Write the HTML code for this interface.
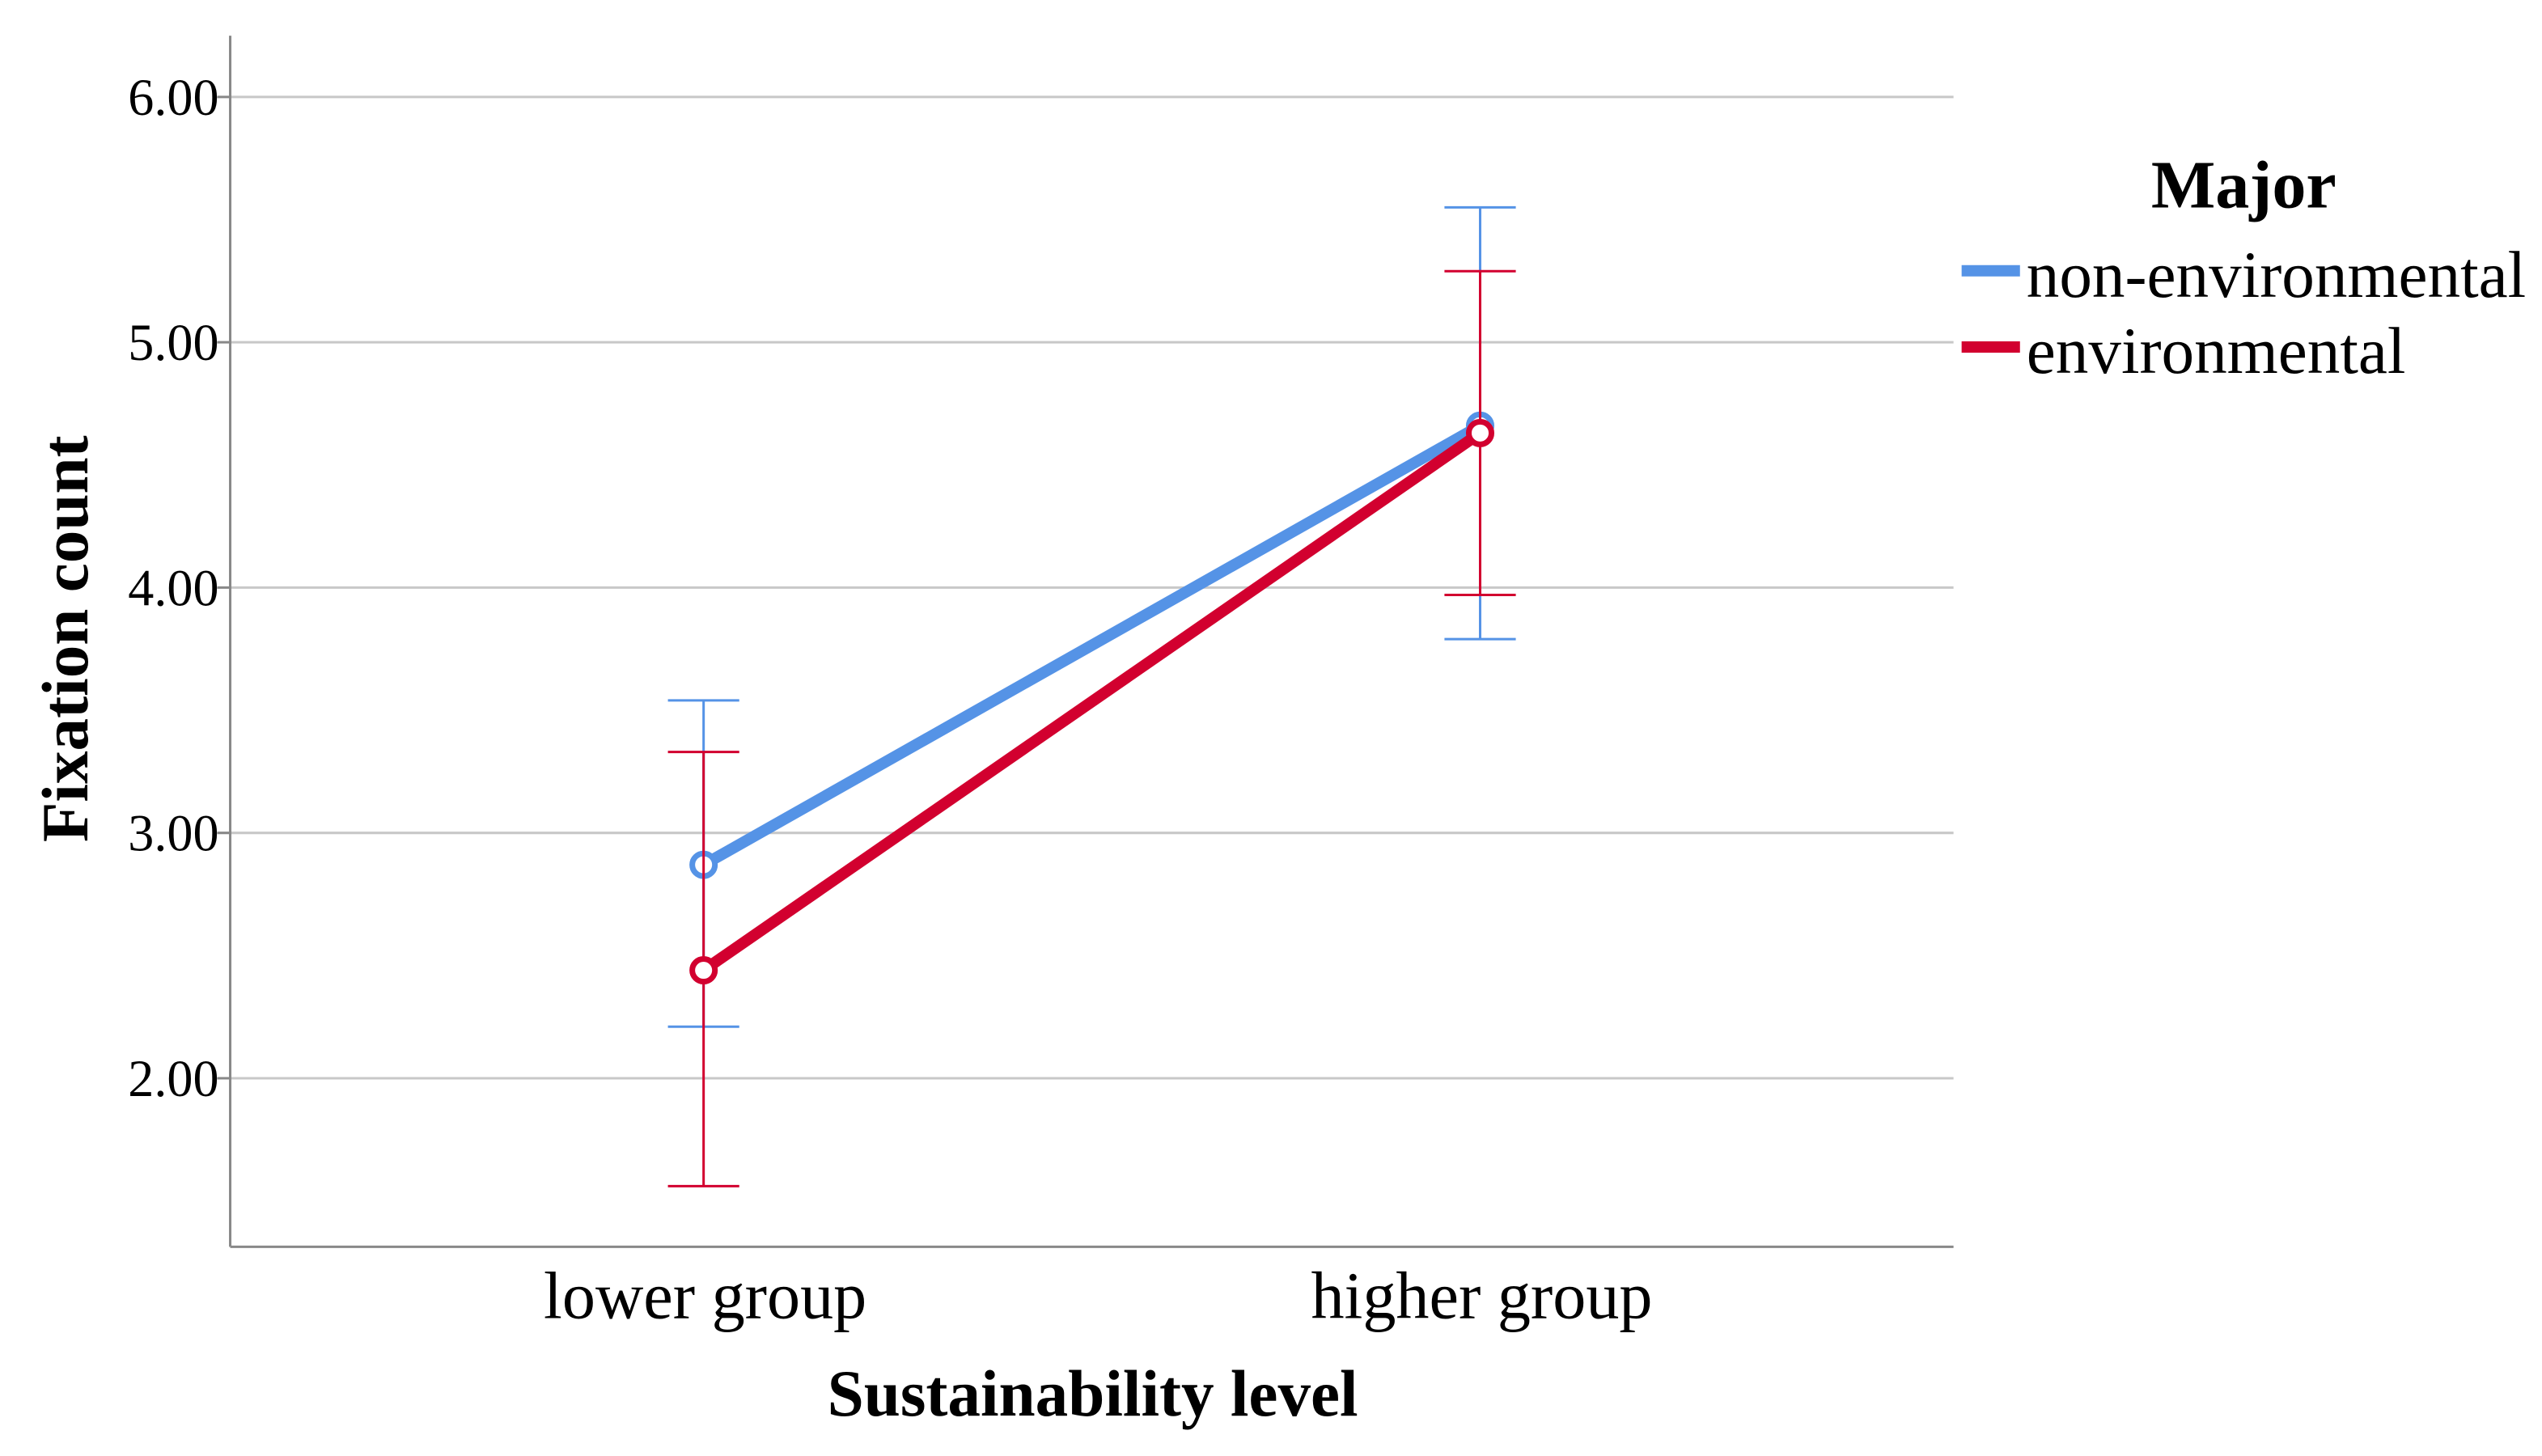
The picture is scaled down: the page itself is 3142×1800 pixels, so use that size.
<!DOCTYPE html>
<html><head><meta charset="utf-8"><style>
html,body{margin:0;padding:0;background:#fff;}
svg{display:block;font-family:"Liberation Serif",serif;}
</style></head><body>
<svg id="chart" width="3142" height="1800" viewBox="0 0 1568 898" preserveAspectRatio="none" xmlns="http://www.w3.org/2000/svg">
<g id="grid"></g>
<g id="yticks"></g>
<g id="xticks"></g>
<line x1="142" y1="22" x2="142" y2="769" stroke="#888" stroke-width="1.5"/>
<line x1="142" y1="769" x2="1205" y2="769" stroke="#888" stroke-width="1.5"/>
<g id="series"></g>
<text transform="translate(54,394) rotate(-90)" text-anchor="middle" font-size="40.5" font-weight="bold" fill="#000">Fixation count</text>
<text x="674" y="873" text-anchor="middle" font-size="40.5" font-weight="bold" fill="#000">Sustainability level</text>
<text x="1384" y="128" text-anchor="middle" font-size="42" font-weight="bold" fill="#000">Major</text>
<g>
<line x1="1210" y1="167" x2="1246" y2="167" stroke="#5593e6" stroke-width="7"/>
<text x="1250" y="183" font-size="40.5" fill="#000">non-environmental</text></g>
<g>
<line x1="1210" y1="214" x2="1246" y2="214" stroke="#d2002f" stroke-width="7"/>
<text x="1250" y="230" font-size="40.5" fill="#000">environmental</text></g>
</svg>
<script>
const categories = ["lower group", "higher group"];
const nonEnvMean = [2.87, 4.66];
const nonEnvLow = [2.21, 3.79];
const nonEnvHigh = [3.54, 5.55];
const envMean = [2.44, 4.63];
const envLow = [1.56, 3.97];
const envHigh = [3.33, 5.29];
const yTicks = [2, 3, 4, 5, 6];
const yTickLabels = ["2.00", "3.00", "4.00", "5.00", "6.00"];

const NS = "http://www.w3.org/2000/svg";
function y(v){ return 665 - (v - 2) * 151.3; }
function x(i){ return 434 + i * 479; }
function mk(tag, attrs, parent){ const e = document.createElementNS(NS, tag); for (const k in attrs) e.setAttribute(k, attrs[k]); parent.appendChild(e); return e; }

const grid = document.getElementById('grid'), yt = document.getElementById('yticks'), xt = document.getElementById('xticks'), ser = document.getElementById('series');
yTicks.forEach((v, i) => {
  const g = mk('line', {x1:142, x2:1205, y1:y(v), y2:y(v), stroke:'#c8c8c8', 'stroke-width':1.5}, grid);
  
  
  const t = mk('line', {x1:134, x2:142, y1:y(v), y2:y(v), stroke:'#888', 'stroke-width':1.5}, yt);
  
  
  const l = mk('text', {x:135, y:y(v)+11, 'text-anchor':'end', 'font-size':32, fill:'#000'}, yt);
  l.textContent = yTickLabels[i];
  
  
});
categories.forEach((c, i) => {
  const l = mk('text', {x:x(i)+1, y:813, 'text-anchor':'middle', 'font-size':41, fill:'#000'}, xt);
  l.textContent = c;
  
  
});
function drawSeries(mean, lo, hi, color, name){
  const g = mk('g', {}, ser);
  
  
  mean.forEach((m, i) => {
    const e = mk('g', {stroke:color, 'stroke-width':1.5, fill:'none'}, g);
    
    
    mk('line', {x1:x(i), x2:x(i), y1:y(hi[i]), y2:y(lo[i])}, e);
    mk('line', {x1:x(i)-22, x2:x(i)+22, y1:y(hi[i]), y2:y(hi[i])}, e);
    mk('line', {x1:x(i)-22, x2:x(i)+22, y1:y(lo[i]), y2:y(lo[i])}, e);
  });
  const pl = mk('polyline', {points: mean.map((m,i)=>x(i)+','+y(m)).join(' '), stroke:color, 'stroke-width':7, fill:'none'}, g);
  
  
  mean.forEach((m, i) => {
    const c = mk('circle', {cx:x(i), cy:y(m), r:7, stroke:color, 'stroke-width':3.5, fill:'#fff'}, g);
    
    
  });
}
drawSeries(nonEnvMean, nonEnvLow, nonEnvHigh, '#5593e6', 'non-environmental');
drawSeries(envMean, envLow, envHigh, '#d2002f', 'environmental');
</script>
</body></html>
